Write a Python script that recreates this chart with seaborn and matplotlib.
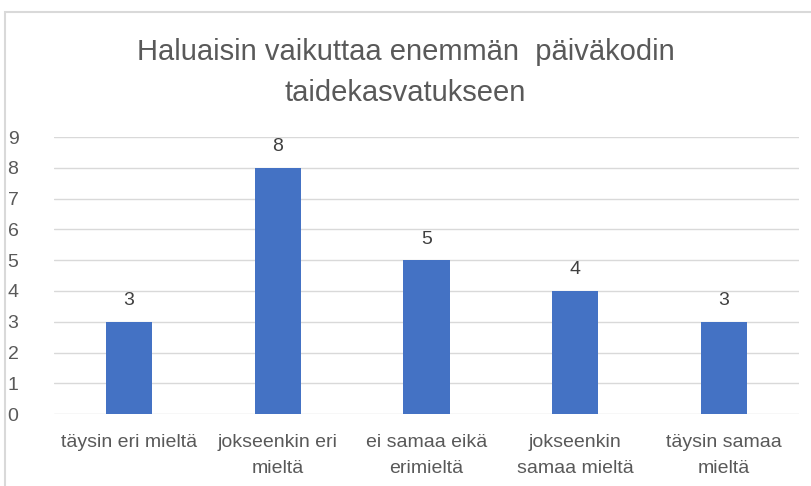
import matplotlib
matplotlib.use('Agg')
import matplotlib.pyplot as plt
import seaborn as sns
import pandas as pd
from matplotlib.patches import Rectangle

categories = ["täysin eri mieltä", "jokseenkin eri\nmieltä", "ei samaa eikä\nerimieltä",
              "jokseenkin\nsamaa mieltä", "täysin samaa\nmieltä"]
values = [3, 8, 5, 4, 3]
title = "Haluaisin vaikuttaa enemmän  päiväkodin\ntaidekasvatukseen"

df = pd.DataFrame({"category": categories, "count": values})

sns.set_style("white")
plt.rcParams['font.family'] = ['Liberation Sans', 'DejaVu Sans']
text_color = "#595959"

fig = plt.figure(figsize=(8.11, 4.86), dpi=100)
ax = fig.add_axes([0.0672, 0.148, 0.9174, 0.570])

sns.barplot(data=df, x="category", y="count", color="#4472C4", width=0.31,
            saturation=1, linewidth=0, ax=ax, zorder=3)

ax.set_ylim(0, 9)
ax.set_yticks(range(0, 10))
ax.yaxis.grid(True, color="#D9D9D9", linewidth=1, zorder=0)
ax.set_axisbelow(True)
for s in ax.spines.values():
    s.set_visible(False)
ax.set_xlabel("")
ax.set_ylabel("")
ax.tick_params(axis="both", length=0, labelsize=14, colors=text_color)
ax.tick_params(axis="y", pad=26)
ax.tick_params(axis="x", pad=14)
for lbl in ax.get_xticklabels():
    lbl.set_linespacing(1.7)

for c in ax.containers:
    ax.bar_label(c, padding=9, fontsize=14, color="#404040")

fig.text(0.5, 0.922, title, ha="center", va="top", fontsize=21,
         color=text_color, linespacing=1.6)

# chart frame
fig.patches.append(Rectangle((5 / 811, -0.05), 1.2, 1 - 12 / 486 + 0.05,
                             transform=fig.transFigure, fill=False,
                             edgecolor="#D9D9D9", linewidth=1.5))

plt.savefig("out.png", dpi=100)
plt.close()
